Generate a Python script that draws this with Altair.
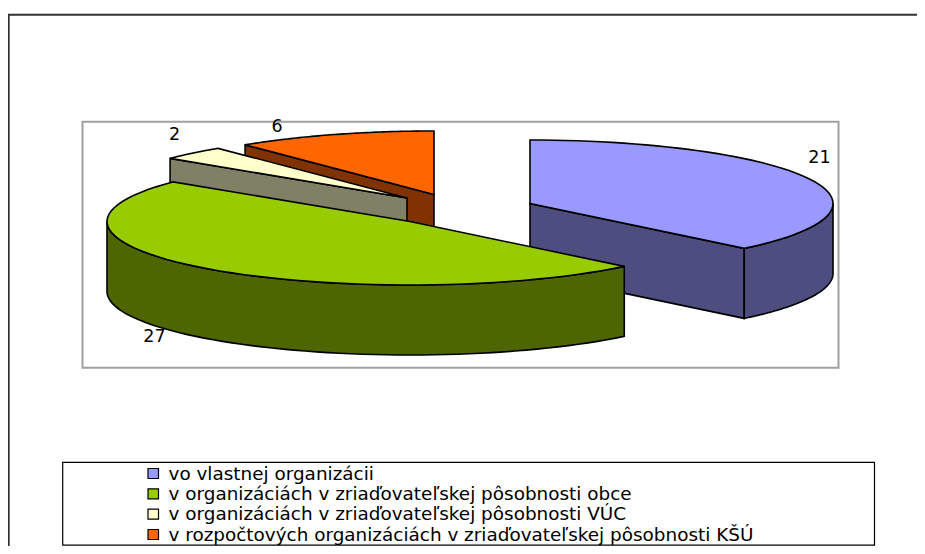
import math
import altair as alt
import pandas as pd

values = [21, 27, 2, 6]
labels = ["vo vlastnej organizácii",
          "v organizáciách v zriaďovateľskej pôsobnosti obce",
          "v organizáciách v zriaďovateľskej pôsobnosti VÚC",
          "v rozpočtových organizáciách v zriaďovateľskej pôsobnosti KŠÚ"]
top_colors = ["#9999FF", "#99CC00", "#FFFFCC", "#FF6600"]
side_colors = ["#4D4D80", "#4D6600", "#808066", "#803300"]
apex = [(530, 203.5), (410, 221.5), (407, 198), (434, 194.5)]
label_pos = [(819.5, 163), (154.5, 342), (174.5, 140), (277, 132)]
legend_base = [479.5, 499.8, 520.2, 540.5]

W, H = 909, 538
RX, RY, DEPTH = 303, 63.5, 70
FONT = "DejaVu Sans"

sx = alt.Scale(domain=[8, 8 + W], range=[0, W], nice=False, zero=False)
sy = alt.Scale(domain=[8 + H, 8], range=[H, 0], nice=False, zero=False)

total = sum(values)
bounds = [0]
for v in values:
    bounds.append(bounds[-1] + v / total * 2 * math.pi)


def rim(i, a0, a1, dz=0, n=60):
    cx, cy = apex[i]
    return [(cx + RX * math.sin(a0 + (a1 - a0) * k / n),
             cy - RY * math.cos(a0 + (a1 - a0) * k / n) + dz) for k in range(n + 1)]


def poly(points, fill, stroke="#000000", sw=1.6):
    df = pd.DataFrame({"x": [p[0] for p in points], "y": [p[1] for p in points],
                       "o": list(range(len(points)))})
    return alt.Chart(df).mark_line(fill=fill, stroke=stroke, strokeWidth=sw,
                                   interpolate="linear-closed", strokeJoin="miter").encode(
        x=alt.X("x:Q", scale=sx, axis=None),
        y=alt.Y("y:Q", scale=sy, axis=None),
        order="o:Q")


def open_line(points, color, sw):
    df = pd.DataFrame({"x": [p[0] for p in points], "y": [p[1] for p in points],
                       "o": list(range(len(points)))})
    return alt.Chart(df).mark_line(stroke=color, strokeWidth=sw).encode(
        x=alt.X("x:Q", scale=sx, axis=None),
        y=alt.Y("y:Q", scale=sy, axis=None),
        order="o:Q")


def cut_face(i, a):
    cx, cy = apex[i]
    r = rim(i, a, a, n=1)[0]
    return poly([(cx, cy), r, (r[0], r[1] + DEPTH), (cx, cy + DEPTH)], side_colors[i])


def outer_side(i, a0, a1):
    return poly(rim(i, a0, a1) + rim(i, a0, a1, DEPTH)[::-1], side_colors[i])


def top(i):
    return poly([apex[i]] + rim(i, bounds[i], bounds[i + 1]), top_colors[i])


layers = [
    open_line([(8.7, 546), (8.7, 14.7), (917, 14.7)], "#333333", 2),
    poly([(82.5, 121.7), (838.5, 121.7), (838.5, 367.7), (82.5, 367.7)], "#FFFFFF", "#A0A0A0", 2),
    # orange slice
    cut_face(3, bounds[3]),
    top(3),
    # blue slice
    cut_face(0, bounds[1]),
    outer_side(0, math.pi / 2, bounds[1]),
    top(0),
    # yellow slice
    cut_face(2, bounds[2]),
    top(2),
    # green slice
    outer_side(1, bounds[1], 3 * math.pi / 2),
    top(1),
    # legend box
    poly([(62.7, 462.4), (874.5, 462.4), (874.5, 545.2), (62.7, 545.2)], "#FFFFFF", "#000000", 1.2),
]

lab = pd.DataFrame({"x": [p[0] for p in label_pos], "y": [p[1] for p in label_pos], "v": values})
layers.append(alt.Chart(lab).mark_text(font=FONT, fontSize=17.5, color="#000000", align="center",
                                       baseline="alphabetic").encode(
    x=alt.X("x:Q", scale=sx, axis=None), y=alt.Y("y:Q", scale=sy, axis=None), text="v:N"))

leg = pd.DataFrame({"y": legend_base, "t": labels, "c": top_colors})
leg["x"] = 168.5
leg["x0"] = 148
leg["x1"] = 158.5
leg["y0"] = leg["y"] - 11
leg["y1"] = leg["y"] - 1
layers.append(alt.Chart(leg).mark_rect(stroke="#000000", strokeWidth=1.2).encode(
    x=alt.X("x0:Q", scale=sx, axis=None), x2="x1:Q",
    y=alt.Y("y0:Q", scale=sy, axis=None), y2="y1:Q",
    fill=alt.Fill("c:N", scale=None)))
layers.append(alt.Chart(leg).mark_text(font=FONT, fontSize=18.4, color="#000000", align="left",
                                       baseline="alphabetic").encode(
    x=alt.X("x:Q", scale=sx, axis=None), y=alt.Y("y:Q", scale=sy, axis=None), text="t:N"))

chart = alt.layer(*layers).properties(
    width=W, height=H, background="#FFFFFF", padding=0,
    autosize=alt.AutoSizeParams(type="none")
).configure_view(stroke=None)
chart.save("out.html", embed_options={"renderer": "svg", "actions": False})
